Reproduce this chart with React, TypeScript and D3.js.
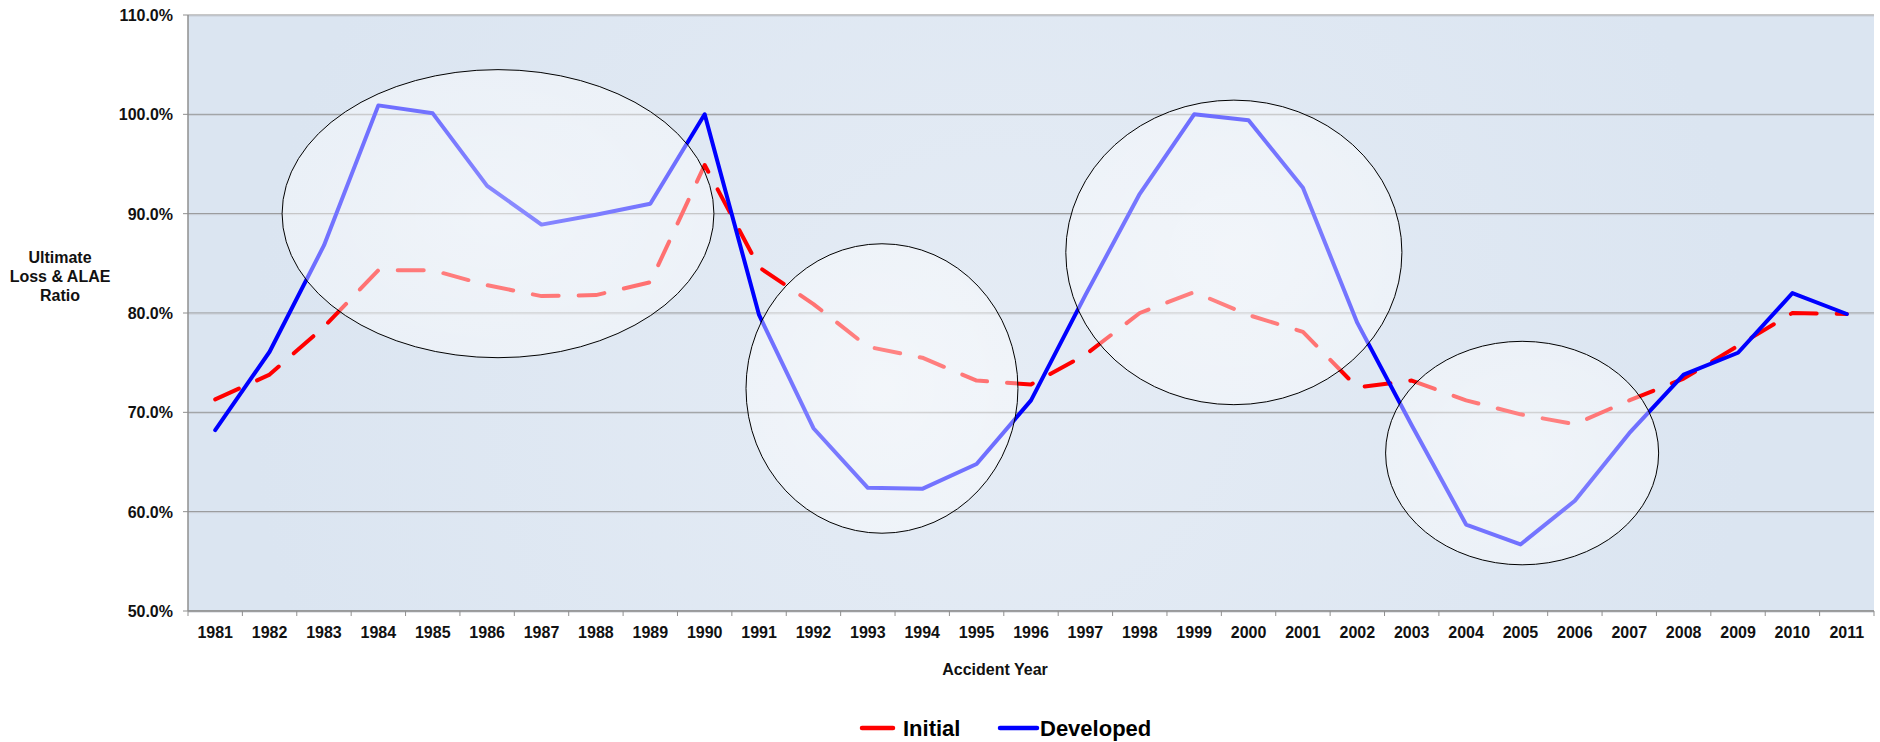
import * as d3 from "d3";

// accident years and the two loss ratio series (percent)
const years = [
  "1981", "1982", "1983", "1984", "1985", "1986", "1987", "1988", "1989", "1990",
  "1991", "1992", "1993", "1994", "1995", "1996", "1997", "1998", "1999", "2000",
  "2001", "2002", "2003", "2004", "2005", "2006", "2007", "2008", "2009", "2010", "2011",
];
const initial = [
  71.3, 73.8, 78.6, 84.3, 84.3, 82.8, 81.7, 81.8, 83.1, 94.9,
  84.6, 80.9, 76.6, 75.5, 73.2, 72.8, 75.8, 80.0, 82.1, 79.8,
  78.1, 72.5, 73.2, 71.2, 69.8, 68.8, 71.2, 73.4, 76.7, 80.0, 79.9,
];
const developed = [
  68.2, 76.1, 86.8, 100.9, 100.1, 92.8, 88.9, 89.9, 91.0, 100.0,
  79.8, 68.4, 62.4, 62.3, 64.8, 71.2, 81.8, 92.0, 100.0, 99.4,
  92.6, 79.0, 68.7, 58.7, 56.7, 61.1, 67.9, 73.8, 76.0, 82.0, 79.9,
];
const yTicks = [50, 60, 70, 80, 90, 100, 110];

// highlighted cycles: centre (year, ratio) and half sizes (years, points)
const ringYear = [1986.2, 1993.26, 1999.73, 2005.03];
const ringValue = [90.0, 72.4, 86.1, 65.9];
const ringHalfYears = [3.97, 2.5, 3.09, 2.51];
const ringHalfPts = [14.5, 14.57, 15.33, 11.25];

const W = 1880;
const H = 742;
const left = 188;
const right = 1874;
const top = 15;
const bottom = 611;
const font = "Arial, 'Liberation Sans', sans-serif";

export default function App() {
  const x = d3.scaleBand(years, [left, right]);
  const xc = (i: number) => (x(years[i]) as number) + x.bandwidth() / 2;
  const yearPos = d3.scaleLinear([1980.5, 2011.5], [left, right]);
  const y = d3.scaleLinear([50, 110], [bottom, top]);

  const line = d3
    .line<number>()
    .x((_, i) => xc(i))
    .y((d) => y(d));

  const bounds = years.map((yr) => x(yr) as number).concat([right]);

  return (
    <svg
      width={W}
      height={H}
      style={{ position: "absolute", left: 0, top: 0, background: "#fff" }}
      fontFamily={font}
    >
      <defs>
        <radialGradient id="bg" gradientUnits="userSpaceOnUse" cx={1000} cy={380} r={750}>
          <stop offset="0" stopColor="#e5ecf5" />
          <stop offset="1" stopColor="#dbe5f1" />
        </radialGradient>
        <radialGradient id="ring">
          <stop offset="0" stopColor="#fff" stopOpacity={0.55} />
          <stop offset="1" stopColor="#fff" stopOpacity={0.42} />
        </radialGradient>
      </defs>

      <rect x={left} y={top} width={right - left} height={bottom - top} fill="url(#bg)" />

      {yTicks.map((t) => (
        <g key={t}>
          <line x1={left - 5} x2={right} y1={y(t)} y2={y(t)} stroke="#8f8f8f" strokeWidth={1} />
          <line x1={left} x2={right} y1={y(t) + 1} y2={y(t) + 1} stroke="#c9ced6" strokeWidth={1} />
          <text
            x={173}
            y={y(t) + 6}
            textAnchor="end"
            fontSize={16}
            fontWeight="bold"
            fill="#111"
          >
            {t.toFixed(1) + "%"}
          </text>
        </g>
      ))}

      <line x1={left} x2={left} y1={top} y2={bottom} stroke="#8f8f8f" strokeWidth={1.5} />
      <line x1={left} x2={right} y1={bottom} y2={bottom} stroke="#8f8f8f" strokeWidth={1.5} />
      {bounds.map((b, i) => (
        <line key={i} x1={b} x2={b} y1={bottom} y2={bottom + 5} stroke="#8f8f8f" strokeWidth={1} />
      ))}
      {years.map((yr, i) => (
        <text
          key={yr}
          x={xc(i)}
          y={637.5}
          textAnchor="middle"
          fontSize={16}
          fontWeight="bold"
          fill="#111"
        >
          {yr}
        </text>
      ))}

      <path
        d={line(initial) as string}
        fill="none"
        stroke="#ff0000"
        strokeWidth={4}
        strokeDasharray="26 20"
        strokeLinecap="round"
        strokeLinejoin="round"
      />
      <path
        d={line(developed) as string}
        fill="none"
        stroke="#0000ff"
        strokeWidth={4}
        strokeLinejoin="round"
        strokeLinecap="round"
      />

      {ringYear.map((ry, i) => (
        <ellipse
          key={i}
          cx={yearPos(ry)}
          cy={y(ringValue[i])}
          rx={yearPos(ry + ringHalfYears[i]) - yearPos(ry)}
          ry={y(0) - y(ringHalfPts[i])}
          fill="url(#ring)"
          stroke="#000"
          strokeWidth={1}
        />
      ))}

      <text textAnchor="middle" fontSize={16} fontWeight="bold" fill="#111">
        <tspan x={60} y={263}>Ultimate</tspan>
        <tspan x={60} y={282}>Loss &amp; ALAE</tspan>
        <tspan x={60} y={301}>Ratio</tspan>
      </text>
      <text x={995} y={675} textAnchor="middle" fontSize={16} fontWeight="bold" fill="#111">
        Accident Year
      </text>

      <line x1={862} x2={893} y1={728} y2={728} stroke="#ff0000" strokeWidth={4.5} strokeLinecap="round" />
      <text x={903} y={736} fontSize={22} fontWeight="bold" fill="#000">
        Initial
      </text>
      <line x1={1000} x2={1037} y1={728} y2={728} stroke="#0000ff" strokeWidth={4.5} strokeLinecap="round" />
      <text x={1040} y={736} fontSize={22} fontWeight="bold" fill="#000">
        Developed
      </text>
    </svg>
  );
}
